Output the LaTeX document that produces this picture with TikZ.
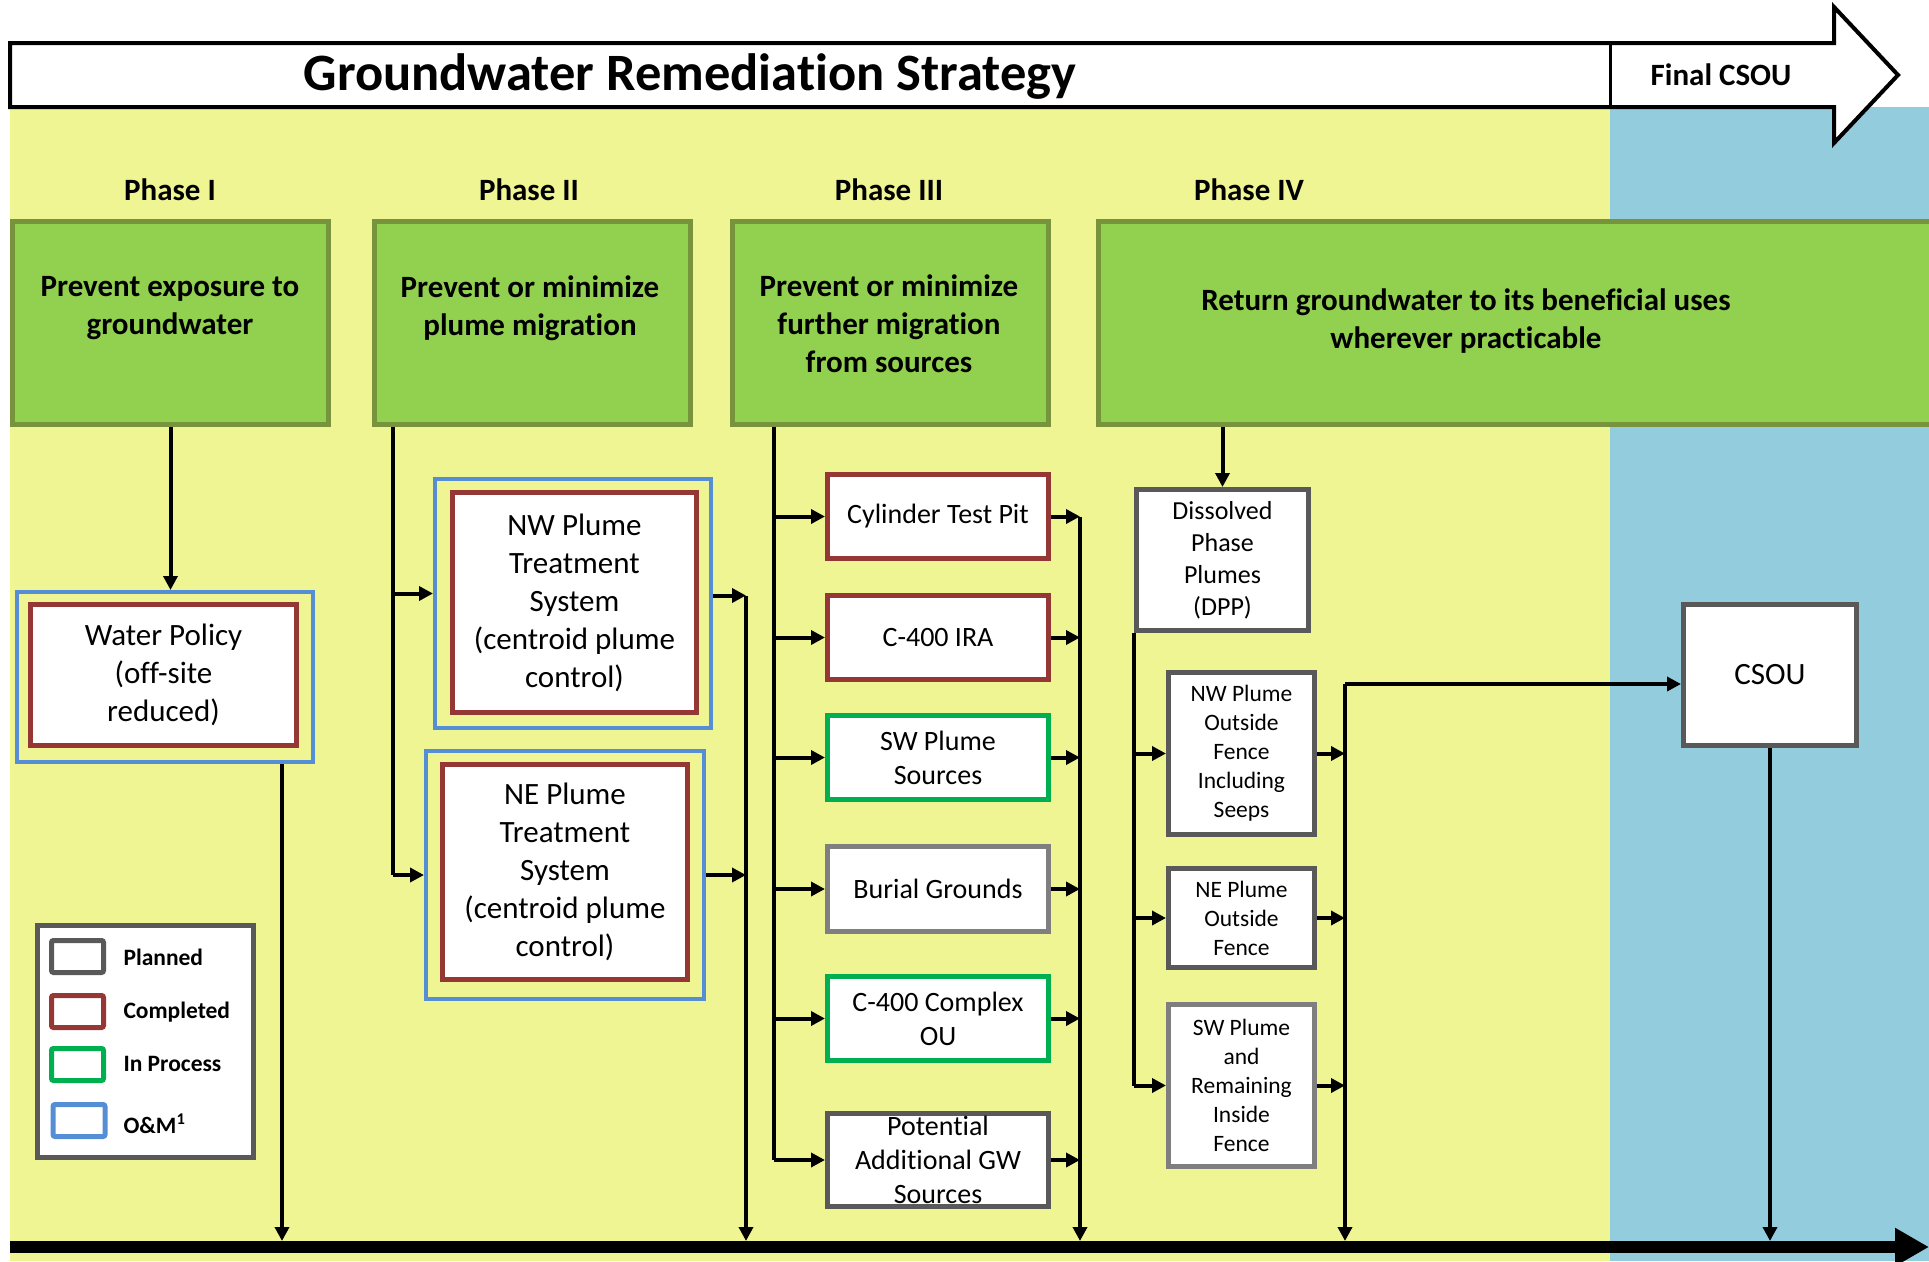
\documentclass[tikz,border=0pt]{standalone}
\usepackage{fontspec}
\setmainfont{Carlito}[Ligatures=NoCommon]
\usetikzlibrary{arrows.meta}

\definecolor{yellowbg}{RGB}{240,245,147}
\definecolor{bluebg}{RGB}{147,205,221}
\definecolor{goalgreen}{RGB}{146,208,80}
\definecolor{goalrim}{RGB}{119,147,60}
\definecolor{donered}{RGB}{149,55,53}
\definecolor{omblue}{RGB}{85,142,213}
\definecolor{progreen}{RGB}{0,176,80}
\definecolor{plangray}{RGB}{89,89,89}
\definecolor{palegray}{RGB}{127,127,127}

\tikzset{
  goalbox/.style={draw=goalrim, fill=goalgreen, line width=5pt, minimum height=203pt, minimum width=316pt},
  goaltext/.style={font=\bfseries\fontsize{31}{38}\selectfont, align=center},
  phaselabel/.style={anchor=base, font=\bfseries\fontsize{31}{38}\selectfont},
  stepbox/.style={draw, fill=white, line width=5pt, align=center, inner sep=0pt},
  bigtext/.style={font=\fontsize{31}{38}\selectfont},
  midtext/.style={font=\fontsize{28}{34}\selectfont},
  smalltext/.style={font=\fontsize{23.5}{29}\selectfont},
  omframe/.style={draw=omblue, line width=4pt, inner sep=0pt},
  swatch/.style={draw, fill=white, line width=5pt, rounded corners=2pt, minimum width=52pt, minimum height=32pt},
  keytext/.style={anchor=west, font=\bfseries\fontsize{23.5}{28}\selectfont},
  link/.style={line width=4pt},
  arr/.style={line width=4pt, -{Triangle[length=14pt,width=14pt]}}
}

\begin{document}
\begin{tikzpicture}[x=1pt,y=-1pt]
\useasboundingbox (0,0) rectangle (1929,1261);
\clip (0,0) rectangle (1929,1261);

% background bands
\fill[yellowbg] (10,107) rectangle (1610,1261);
\fill[bluebg] (1610,107) rectangle (1929,1261);

% strategy arrow
\draw[line width=4pt, fill=white] (10,43) -- (1834,43) -- (1834,7) -- (1898,75) -- (1834,143) -- (1834,107) -- (10,107) -- cycle;
\draw[line width=3pt] (1610,43) -- (1610,107);
\node[anchor=base, font=\bfseries\fontsize{52.5}{60}\selectfont] (title) at (690,90) {Groundwater Remediation Strategy};
\node[anchor=base, font=\bfseries\fontsize{31}{38}\selectfont] (final) at (1721,85) {Final CSOU};

% phases
\node[phaselabel] (ph1) at (170,200) {Phase I};
\node[phaselabel] (ph2) at (529,200) {Phase II};
\node[phaselabel] (ph3) at (889,200) {Phase III};
\node[phaselabel] (ph4) at (1249,200) {Phase IV};

\node[goalbox] (g1) at (170.5,323) {};
\node[goalbox] (g2) at (532.5,323) {};
\node[goalbox] (g3) at (890.5,323) {};
\node[goalbox, minimum width=841pt] (g4) at (1519,323) {};
\node[goaltext] (t1) at (170,308) {Prevent exposure to\\groundwater};
\node[goaltext] (t2) at (530,308) {Prevent or minimize\\plume migration};
\node[goaltext] (t3) at (889,324) {Prevent or minimize\\further migration\\from sources};
\node[goaltext] (t4) at (1466,321) {Return groundwater to its beneficial uses\\wherever practicable};

% phase I
\node[omframe, minimum width=296pt, minimum height=170pt] (wpo) at (165,677) {};
\node[stepbox, draw=donered, bigtext, minimum width=266pt, minimum height=141pt] (wp) at (163.5,675) {Water Policy\\(off-site\\reduced)};

% phase II
\node[omframe, minimum width=276pt, minimum height=249pt] (nwo) at (573,603.5) {};
\node[stepbox, draw=donered, bigtext, minimum width=244pt, minimum height=220pt] (nw) at (574.5,602.5) {NW Plume\\Treatment\\System\\(centroid plume\\control)};
\node[omframe, minimum width=278pt, minimum height=248pt] (neo) at (565,875) {};
\node[stepbox, draw=donered, bigtext, minimum width=245pt, minimum height=215pt] (ne) at (565,872) {NE Plume\\Treatment\\System\\(centroid plume\\control)};

% phase III
\node[stepbox, draw=donered, midtext, minimum width=221pt, minimum height=84pt] (cyl) at (938,516.5) {Cylinder Test Pit};
\node[stepbox, draw=donered, midtext, minimum width=221pt, minimum height=84pt] (ira) at (938,637.5) {C-400 IRA};
\node[stepbox, draw=progreen, midtext, minimum width=221pt, minimum height=84pt] (sws) at (938,757.5) {SW Plume\\Sources};
\node[stepbox, draw=palegray, midtext, minimum width=221pt, minimum height=85pt] (bur) at (938,889) {Burial Grounds};
\node[stepbox, draw=progreen, midtext, minimum width=221pt, minimum height=84pt] (cpx) at (938,1018.5) {C-400 Complex\\OU};
\node[stepbox, draw=plangray, midtext, minimum width=221pt, minimum height=93pt] (pot) at (938,1160) {Potential\\Additional GW\\Sources};

% phase IV
\node[stepbox, draw=plangray, font=\fontsize{26}{32}\selectfont, minimum width=172pt, minimum height=141pt] (dpp) at (1222.5,560) {Dissolved\\Phase\\Plumes\\(DPP)};
\node[stepbox, draw=plangray, smalltext, minimum width=146pt, minimum height=162pt] (nwf) at (1241.5,753.5) {NW Plume\\Outside\\Fence\\Including\\Seeps};
\node[stepbox, draw=plangray, smalltext, minimum width=146pt, minimum height=99pt] (nef) at (1241.5,918) {NE Plume\\Outside\\Fence};
\node[stepbox, draw=palegray, smalltext, minimum width=146pt, minimum height=162pt] (swi) at (1241.5,1085.5) {SW Plume\\and\\Remaining\\Inside\\Fence};

% final
\node[stepbox, draw=plangray, bigtext, minimum width=173pt, minimum height=141pt] (csou) at (1770,675) {CSOU};

% legend
\node[draw=plangray, fill=white, line width=5pt, minimum width=216pt, minimum height=232pt] (key) at (145.5,1041.5) {};
\node[swatch, draw=plangray] (k1) at (77.5,956.5) {};
\node[swatch, draw=donered] (k2) at (77.5,1011.5) {};
\node[swatch, draw=progreen] (k3) at (77.5,1064.5) {};
\node[swatch, draw=omblue] (k4) at (79,1120.5) {};
\node[keytext] (l1) at (120,957) {Planned};
\node[keytext] (l2) at (120,1012) {Completed};
\node[keytext] (l3) at (120,1064) {In Process};
\node[keytext] (l4) at (120,1124) {O\&M\textsuperscript{1}};

% drop points on the timeline
\coordinate (d1) at (282,1241);
\coordinate (d2) at (746,1241);
\coordinate (d3) at (1080,1241);
\coordinate (d4) at (1345,1241);
\coordinate (b2) at (393,0);
\coordinate (b3) at (774,0);
\coordinate (nwin) at ([yshift=10pt]nwo.west);
\coordinate (nwout) at ([yshift=8pt]nwo.east);
\coordinate (csin) at ([yshift=-9pt]csou.west);

% phase I links
\draw[arr] (g1.south) -- (g1.south |- wpo.north);
\draw[arr] (wpo.south -| d1) -- (d1);

% phase II links
\draw[link] (g2.south -| b2) -- (b2 |- neo);
\draw[arr] (b2 |- nwin) -- (nwin);
\draw[arr] (b2 |- neo) -- (neo);
\draw[arr] (nwout) -- (nwout -| d2);
\draw[arr] (neo) -- (neo -| d2);
\draw[arr] (nwout -| d2) -- (d2);

% phase III links
\draw[link] (g3.south -| b3) -- (b3 |- pot);
\draw[arr] (b3 |- cyl) -- (cyl);
\draw[arr] (b3 |- ira) -- (ira);
\draw[arr] (b3 |- sws) -- (sws);
\draw[arr] (b3 |- bur) -- (bur);
\draw[arr] (b3 |- cpx) -- (cpx);
\draw[arr] (b3 |- pot) -- (pot);
\draw[arr] (cyl) -- (cyl -| d3);
\draw[arr] (ira) -- (ira -| d3);
\draw[arr] (sws) -- (sws -| d3);
\draw[arr] (bur) -- (bur -| d3);
\draw[arr] (cpx) -- (cpx -| d3);
\draw[arr] (pot) -- (pot -| d3);
\draw[arr] (cyl -| d3) -- (d3);

% phase IV links
\draw[arr] (g4.south -| dpp) -- (dpp);
\draw[link] (dpp.south west) -- (dpp.south west |- swi);
\draw[arr] (dpp.south west |- nwf) -- (nwf);
\draw[arr] (dpp.south west |- nef) -- (nef);
\draw[arr] (dpp.south west |- swi) -- (swi);
\draw[arr] (nwf) -- (nwf -| d4);
\draw[arr] (nef) -- (nef -| d4);
\draw[arr] (swi) -- (swi -| d4);
\draw[arr] (d4 |- csin) -- (csin);
\draw[arr] (d4 |- csin) -- (d4);
\draw[arr] (csou) -- (csou |- d4);

% timeline
\draw[line width=12pt, -{Triangle[length=34pt,width=36pt]}] (10,1247) -- (1929,1247);
\end{tikzpicture}
\end{document}
